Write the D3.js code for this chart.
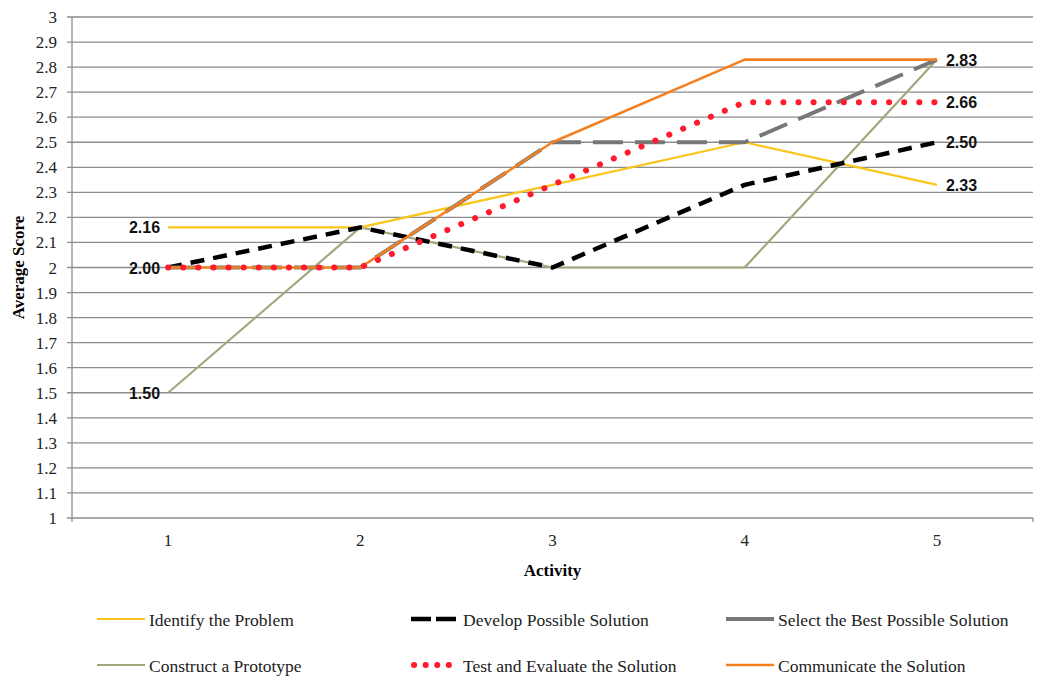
<!DOCTYPE html>
<html>
<head>
<meta charset="utf-8">
<script src="https://cdn.jsdelivr.net/npm/d3@7"></script>
<style>
  body { margin: 0; background: #fff; }
  svg { display: block; }
</style>
</head>
<body>
<svg></svg>
<script>
// data
var activities = ["1", "2", "3", "4", "5"];
var yTicks = [1, 1.1, 1.2, 1.3, 1.4, 1.5, 1.6, 1.7, 1.8, 1.9, 2, 2.1, 2.2, 2.3, 2.4, 2.5, 2.6, 2.7, 2.8, 2.9, 3];

var identify    = [2.16, 2.16, 2.33, 2.50, 2.33];
var develop     = [2.00, 2.16, 2.00, 2.33, 2.50];
var select      = [2.00, 2.00, 2.50, 2.50, 2.83];
var construct   = [1.50, 2.16, 2.00, 2.00, 2.83];
var testEval    = [2.00, 2.00, 2.33, 2.66, 2.66];
var communicate = [2.00, 2.00, 2.50, 2.83, 2.83];

var seriesNames = ["Identify the Problem", "Develop Possible Solution", "Select the Best Possible Solution",
                   "Construct a Prototype", "Test and Evaluate the Solution", "Communicate the Solution"];

var svgWidth = 1048, svgHeight = 682;
var margin = {left: 72, right: 15, top: 17, bottom: 164};

var svg = d3.select("svg")
    .attr("width", svgWidth)
    .attr("height", svgHeight);

var xScale = d3.scaleBand()
    .domain(activities)
    .range([margin.left, svgWidth - margin.right]);

var yScale = d3.scaleLinear()
    .domain([1, 3])
    .range([svgHeight - margin.bottom, margin.top]);

var cx = function(i) { return xScale(activities[i]) + xScale.bandwidth() / 2; };

// gridlines
svg.append("g")
    .selectAll("line")
    .data(yTicks)
    .enter()
    .append("line")
    .attr("x1", margin.left - 5)
    .attr("x2", svgWidth - margin.right)
    .attr("y1", function(d) { return yScale(d); })
    .attr("y2", function(d) { return yScale(d); })
    .attr("stroke", "#8c8c8c")
    .attr("stroke-width", 1.3);

// y axis line
svg.append("line")
    .attr("x1", margin.left).attr("x2", margin.left)
    .attr("y1", yScale(3)).attr("y2", yScale(1) + 4)
    .attr("stroke", "#8c8c8c").attr("stroke-width", 1.3);

// right end tick of x axis
svg.append("line")
    .attr("x1", svgWidth - margin.right).attr("x2", svgWidth - margin.right)
    .attr("y1", yScale(1)).attr("y2", yScale(1) + 4)
    .attr("stroke", "#8c8c8c").attr("stroke-width", 1.3);

// y tick labels
svg.append("g")
    .selectAll("text")
    .data(yTicks)
    .enter()
    .append("text")
    .attr("x", 57)
    .attr("y", function(d) { return yScale(d) + 6; })
    .attr("text-anchor", "end")
    .attr("font-family", "Liberation Serif, serif")
    .attr("font-size", 17)
    .attr("fill", "#222")
    .text(function(d) { return d3.format("~g")(d); });

// x tick labels
svg.append("g")
    .selectAll("text")
    .data(activities)
    .enter()
    .append("text")
    .attr("x", function(d) { return xScale(d) + xScale.bandwidth() / 2; })
    .attr("y", 546)
    .attr("text-anchor", "middle")
    .attr("font-family", "Liberation Serif, serif")
    .attr("font-size", 17)
    .attr("fill", "#222")
    .text(function(d) { return d; });

// axis titles
svg.append("text")
    .attr("x", (margin.left + svgWidth - margin.right) / 2)
    .attr("y", 576)
    .attr("text-anchor", "middle")
    .attr("font-family", "Liberation Serif, serif")
    .attr("font-weight", "bold")
    .attr("font-size", 17)
    .text("Activity");

svg.append("text")
    .attr("transform", "translate(24," + yScale(2) + ") rotate(-90)")
    .attr("text-anchor", "middle")
    .attr("font-family", "Liberation Serif, serif")
    .attr("font-weight", "bold")
    .attr("font-size", 17)
    .text("Average Score");

// series styles
var series = [
    {name: seriesNames[3], values: construct,   color: "#a3a77c", width: 2.2, dash: null, cap: "butt"},
    {name: seriesNames[0], values: identify,    color: "#fbc51b", width: 2.2, dash: null, cap: "butt"},
    {name: seriesNames[1], values: develop,     color: "#000000", width: 4.5, dash: "14,9", cap: "butt"},
    {name: seriesNames[2], values: select,      color: "#777777", width: 4, dash: "30,12", cap: "butt"},
    {name: seriesNames[5], values: communicate, color: "#f4801f", width: 2.6, dash: null, cap: "butt"},
    {name: seriesNames[4], values: testEval,    color: "#ff1a2e", width: 6, dash: "0.1,15", cap: "round"}
];

var line = d3.line()
    .x(function(d, i) { return cx(i); })
    .y(function(d) { return yScale(d); });

svg.append("g")
    .selectAll("path")
    .data(series)
    .enter()
    .append("path")
    .attr("d", function(d) { return line(d.values); })
    .attr("fill", "none")
    .attr("stroke", function(d) { return d.color; })
    .attr("stroke-width", function(d) { return d.width; })
    .attr("stroke-dasharray", function(d) { return d.dash; })
    .attr("stroke-linecap", function(d) { return d.cap; })
    .attr("stroke-linejoin", "round");

// data labels
var leftLabels = [identify[0], develop[0], construct[0]];
var rightLabels = [communicate[4], testEval[4], develop[4], identify[4]];

svg.append("g")
    .selectAll("text")
    .data(leftLabels)
    .enter()
    .append("text")
    .attr("x", cx(0) - 8)
    .attr("y", function(d) { return yScale(d) + 6; })
    .attr("text-anchor", "end")
    .attr("font-family", "Liberation Sans, sans-serif")
    .attr("font-weight", "bold")
    .attr("font-size", 16)
    .attr("fill", "#111")
    .text(function(d) { return d.toFixed(2); });

svg.append("g")
    .selectAll("text")
    .data(rightLabels)
    .enter()
    .append("text")
    .attr("x", cx(4) + 9)
    .attr("y", function(d) { return yScale(d) + 6; })
    .attr("font-family", "Liberation Sans, sans-serif")
    .attr("font-weight", "bold")
    .attr("font-size", 16)
    .attr("fill", "#111")
    .text(function(d) { return d.toFixed(2); });

// legend
var legendOrder = [0, 1, 2, 3, 4, 5];
var legendStyles = {};
series.forEach(function(s) { legendStyles[s.name] = s; });
var legendX = [97, 411, 726], legendY = [621, 667];

var legend = svg.append("g")
    .selectAll("g")
    .data(legendOrder)
    .enter()
    .append("g")
    .attr("transform", function(d, i) {
        return "translate(" + legendX[i % 3] + "," + legendY[Math.floor(i / 3)] + ")";
    });

legend.append("line")
    .attr("x1", function(d) { return legendStyles[seriesNames[d]].cap === "round" ? 3 : 0; })
    .attr("x2", 48)
    .attr("y1", -2).attr("y2", -2)
    .attr("stroke", function(d) { return legendStyles[seriesNames[d]].color; })
    .attr("stroke-width", function(d) { return legendStyles[seriesNames[d]].width; })
    .attr("stroke-dasharray", function(d) {
        var s = legendStyles[seriesNames[d]];
        if (s.name === seriesNames[1]) return "20,5";
        if (s.name === seriesNames[4]) return "0.1,11.5";
        return null;
    })
    .attr("stroke-linecap", function(d) { return legendStyles[seriesNames[d]].cap; });

legend.append("text")
    .attr("x", 52)
    .attr("y", 5)
    .attr("font-family", "Liberation Serif, serif")
    .attr("font-size", 17.5)
    .attr("fill", "#222")
    .text(function(d) { return seriesNames[d]; });
</script>
</body>
</html>
